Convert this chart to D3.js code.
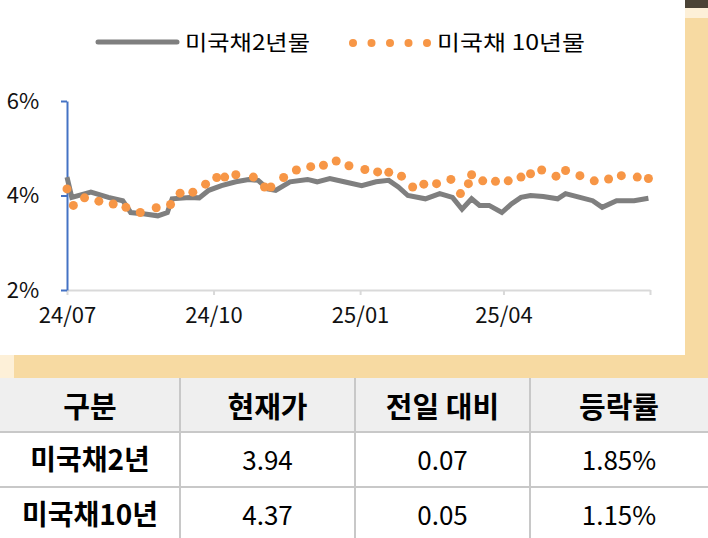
<!DOCTYPE html>
<html><head><meta charset="utf-8">
<script src="https://cdn.jsdelivr.net/npm/d3@7"></script>
<style>body{margin:0;background:#fff}svg{display:block}text{font-family:"Noto Sans CJK KR",sans-serif}</style>
</head><body><svg id="c" width="708" height="538"></svg>
<script>
const dates2y = ["2024-07-01","2024-07-04","2024-07-16","2024-07-27","2024-08-05","2024-08-10","2024-08-19","2024-08-27","2024-09-02","2024-09-05","2024-09-16","2024-09-22","2024-09-28","2024-10-06","2024-10-15","2024-10-23","2024-10-29","2024-11-04","2024-11-09","2024-11-18","2024-11-29","2024-12-05","2024-12-13","2024-12-22","2025-01-02","2025-01-11","2025-01-19","2025-01-25","2025-01-31","2025-02-11","2025-02-20","2025-02-28","2025-03-06","2025-03-12","2025-03-17","2025-03-23","2025-03-31","2025-04-06","2025-04-12","2025-04-18","2025-04-26","2025-05-05","2025-05-10","2025-05-19","2025-05-27","2025-06-02","2025-06-11","2025-06-22","2025-07-01"];
const values2y = [4.39,3.96,4.07,3.96,3.89,3.64,3.61,3.57,3.64,3.93,3.96,3.95,4.11,4.21,4.29,4.34,4.32,4.14,4.11,4.29,4.34,4.29,4.36,4.29,4.21,4.29,4.32,4.18,4.0,3.93,4.04,3.96,3.71,3.93,3.79,3.79,3.64,3.82,3.96,4.0,3.98,3.93,4.04,3.96,3.89,3.75,3.89,3.89,3.94];
const dates10y = ["2024-07-01","2024-07-05","2024-07-12","2024-07-21","2024-07-30","2024-08-07","2024-08-16","2024-08-26","2024-09-04","2024-09-10","2024-09-18","2024-09-26","2024-10-03","2024-10-08","2024-10-15","2024-10-26","2024-11-02","2024-11-06","2024-11-14","2024-11-22","2024-12-01","2024-12-09","2024-12-17","2024-12-25","2025-01-04","2025-01-12","2025-01-19","2025-01-27","2025-02-03","2025-02-10","2025-02-18","2025-02-27","2025-03-05","2025-03-10","2025-03-12","2025-03-19","2025-03-27","2025-04-04","2025-04-12","2025-04-18","2025-04-25","2025-05-04","2025-05-10","2025-05-19","2025-05-28","2025-06-06","2025-06-14","2025-06-24","2025-07-01"];
const values10y = [4.14,3.79,3.95,3.88,3.82,3.75,3.64,3.74,3.81,4.05,4.07,4.24,4.38,4.39,4.44,4.39,4.18,4.18,4.38,4.54,4.61,4.64,4.73,4.63,4.55,4.50,4.49,4.41,4.18,4.24,4.25,4.34,4.04,4.25,4.44,4.31,4.30,4.31,4.39,4.46,4.54,4.41,4.53,4.42,4.31,4.35,4.42,4.39,4.36];
const yTicks = [2,4,6];
const xTickDates = ["2024-07-01","2024-10-01","2025-01-01","2025-04-01","2025-07-02"];
const xTickLabels = ["24/07","24/10","25/01","25/04",""];
const seriesNames = ["미국채2년물","미국채 10년물"];
const tableHeader = ["구분","현재가","전일 대비","등락률"];
const tableRows = [["미국채2년","3.94","0.07","1.85%"],["미국채10년","4.37","0.05","1.15%"]];

const svg = d3.select("#c");
const P = d3.timeParse("%Y-%m-%d");
svg.append("rect").attr("x",685).attr("y",0).attr("width",23).attr("height",378).attr("fill","#f7daa2");
svg.append("rect").attr("x",685).attr("y",0).attr("width",23).attr("height",8).attr("fill","#4b4336");
svg.append("rect").attr("x",685).attr("y",8).attr("width",23).attr("height",10).attr("fill","#fdf0d8");
svg.append("rect").attr("x",0).attr("y",355).attr("width",708).attr("height",23).attr("fill","#f7daa2");
svg.append("rect").attr("x",0).attr("y",355).attr("width",14).attr("height",23).attr("fill","#fdf0d8");

const x = d3.scaleTime().domain([P("2024-07-01"),P("2025-07-02")]).range([67,650]);
const y = d3.scaleLinear().domain([2,6]).range([290,101]);

const xa = svg.append("g").attr("transform","translate(0,290)")
  .call(d3.axisBottom(x).tickValues(xTickDates.map(P)).tickFormat((d,i)=>xTickLabels[i]).tickSize(5).tickSizeOuter(0));
xa.select(".domain").attr("stroke","#d9d9d9").attr("stroke-width",2);
xa.selectAll(".tick line").attr("stroke","#d9d9d9").attr("stroke-width",2);
xa.selectAll("text").attr("font-size",22).attr("fill","#111").attr("dy","1.15em");
const ya = svg.append("g").attr("transform","translate(67,0)")
  .call(d3.axisLeft(y).tickValues(yTicks).tickFormat(d=>d+"%").tickSize(6).tickSizeOuter(0));
ya.select(".domain").attr("stroke","#4472c4").attr("stroke-width",2);
ya.selectAll(".tick line").attr("stroke","#4472c4").attr("stroke-width",2);
ya.selectAll("text").attr("font-size",22).attr("fill","#111").attr("x",-44).attr("text-anchor","middle");

const d2 = dates2y.map((d,i)=>({d:P(d),v:values2y[i]}));
const d10 = dates10y.map((d,i)=>({d:P(d),v:values10y[i]}));
svg.append("path").datum(d2).attr("fill","none").attr("stroke","#7f7f7f").attr("stroke-width",5)
  .attr("d",d3.line().x(p=>x(p.d)).y(p=>y(p.v)));
svg.selectAll("circle.d").data(d10).join("circle").attr("class","d")
  .attr("cx",p=>x(p.d)).attr("cy",p=>y(p.v)).attr("r",4.5).attr("fill","#f79646");

svg.append("line").attr("x1",98).attr("x2",177).attr("y1",42).attr("y2",42).attr("stroke","#7f7f7f").attr("stroke-width",5).attr("stroke-linecap","round");
svg.append("text").attr("x",185).attr("y",50).attr("font-size",21).attr("textLength",125).attr("lengthAdjust","spacingAndGlyphs").text(seriesNames[0]);
svg.selectAll("circle.lg").data(d3.range(5)).join("circle").attr("class","lg")
  .attr("cx",i=>353+i*18.5).attr("cy",43).attr("r",4).attr("fill","#f79646");
svg.append("text").attr("x",437).attr("y",50).attr("font-size",21).attr("textLength",148).attr("lengthAdjust","spacingAndGlyphs").text(seriesNames[1]);

const colX = [0,180,355,530,708];
const rowY = [378,432,487,538];
svg.append("rect").attr("x",0).attr("y",378).attr("width",708).attr("height",54).attr("fill","#efefef");
[1,2,3].forEach(i=>svg.append("line").attr("x1",colX[i]).attr("x2",colX[i]).attr("y1",378).attr("y2",538).attr("stroke","#c8c8c8").attr("stroke-width",2));
[1,2].forEach(i=>svg.append("line").attr("x1",0).attr("x2",708).attr("y1",rowY[i]).attr("y2",rowY[i]).attr("stroke","#c8c8c8").attr("stroke-width",2));
tableHeader.forEach((t,i)=>svg.append("text").attr("x",(colX[i]+colX[i+1])/2).attr("y",418).attr("text-anchor","middle").attr("font-size",29).attr("font-weight","bold").text(t));
tableRows.forEach((r,ri)=>r.forEach((t,i)=>svg.append("text").attr("x",(colX[i]+colX[i+1])/2).attr("y",rowY[ri+1]+38)
  .attr("text-anchor","middle").attr("font-size",i==0?28:26).attr("font-weight",i==0?"bold":"normal").text(t)));
</script></body></html>
